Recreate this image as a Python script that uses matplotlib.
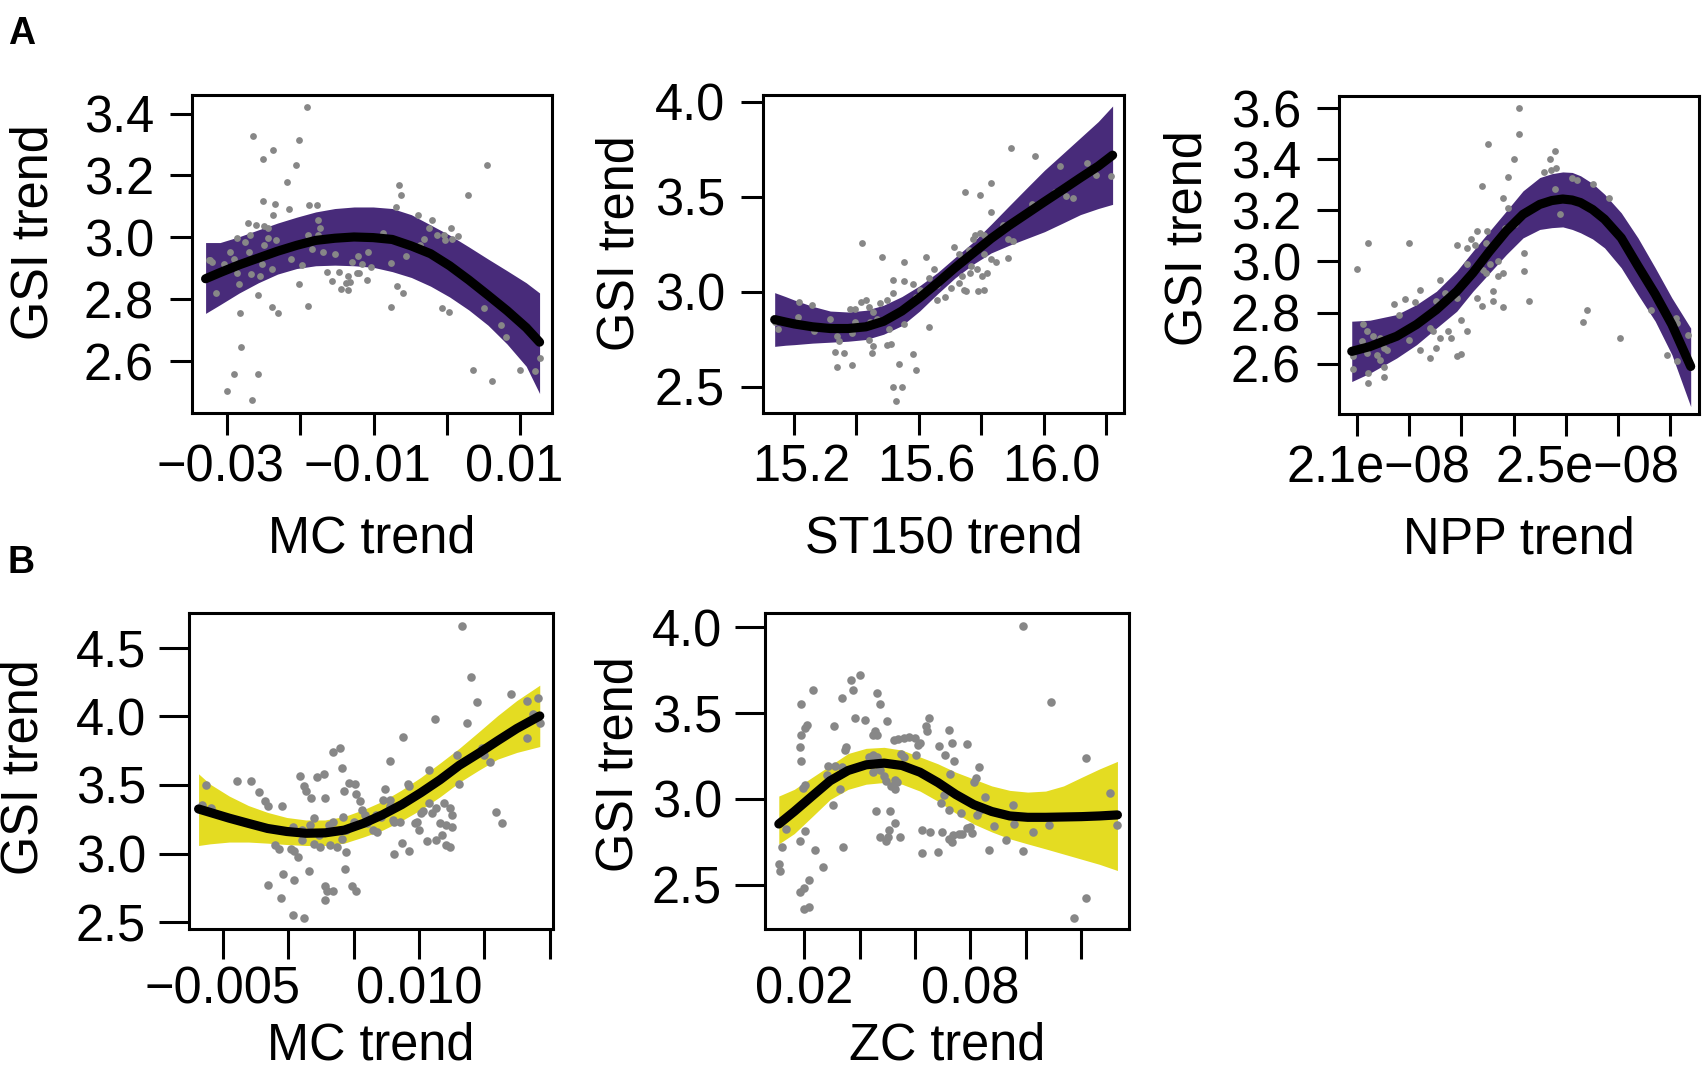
import numpy as np
import matplotlib
matplotlib.use('Agg')
import matplotlib.pyplot as plt
from matplotlib.transforms import ScaledTranslation

plt.rcParams['font.family'] = ['Liberation Sans', 'DejaVu Sans']

W, H = 1704, 1071

# ---------------- panel A, MC trend ----------------
mc_a_pts = [(-0.01901, 3.422), (-0.02635, 3.328), (-0.02010, 3.315), (-0.02375, 3.282), (-0.02510, 3.254),
            (-0.02057, 3.233), (-0.02177, 3.178), (0.00541, 3.233), (-0.00656, 3.169), (-0.00625, 3.137),
            (0.00286, 3.137), (-0.02510, 3.117), (-0.02344, 3.108), (-0.01875, 3.106), (-0.01771, 3.106),
            (-0.02151, 3.090), (-0.02365, 3.073), (-0.00688, 3.097), (-0.00396, 3.073), (-0.00198, 3.057),
            (0.00052, 3.029), (-0.02708, 3.046), (-0.02594, 3.040), (-0.02490, 3.035), (-0.02438, 3.031),
            (-0.02688, 3.007), (-0.02865, 2.999), (-0.02958, 2.954), (-0.02438, 2.999), (-0.00865, 3.013),
            (-0.00130, 3.009), (-0.00042, 3.007), (-0.00031, 2.991), (-0.00250, 3.031), (-0.00313, 2.993),
            (-0.00370, 2.976), (-0.01750, 3.057), (-0.01734, 3.031), (-0.01891, 3.007), (-0.01760, 3.007),
            (-0.03245, 2.925), (-0.03036, 2.914), (-0.02906, 2.930), (-0.02750, 2.985), (-0.02698, 2.952),
            (-0.02854, 2.886), (-0.02828, 2.848), (-0.02672, 2.881), (-0.02516, 2.914), (-0.02490, 2.974),
            (-0.02333, 2.991), (-0.02125, 2.930), (-0.01969, 2.910), (-0.01839, 2.963), (-0.01682, 2.952),
            (-0.01526, 2.947), (-0.01214, 2.941), (-0.01162, 2.914), (-0.01073, 2.952), (-0.01292, 2.921),
            (-0.01630, 2.888), (-0.01474, 2.888), (-0.01344, 2.875), (-0.01229, 2.884), (-0.01563, 2.859),
            (-0.01370, 2.853), (-0.01318, 2.855), (-0.01448, 2.833), (-0.01354, 2.829), (-0.01083, 2.862),
            (-0.01198, 2.886), (-0.01031, 2.903), (-0.00760, 2.917), (-0.00552, 2.941), (-0.00677, 2.842),
            (-0.00604, 2.820), (-0.00760, 2.774), (-0.02021, 2.848), (-0.01891, 2.779), (-0.02385, 2.776),
            (-0.02297, 2.756), (-0.02578, 2.815), (-0.02813, 2.754), (-0.03141, 2.820), (-0.02802, 2.646),
            (-0.02896, 2.558), (-0.02573, 2.558), (-0.03000, 2.503), (-0.02661, 2.475), (0.00359, 2.571),
            (0.00609, 2.534), (0.01000, 2.570), (0.01198, 2.567), (0.01260, 2.611), (0.00505, 2.771),
            (0.00739, 2.716), (0.00802, 2.677), (-0.00068, 2.771), (0.00021, 2.760), (0.00062, 2.996),
            (0.00156, 3.005), (-0.02385, 2.897), (-0.02542, 2.875), (-0.03193, 2.919), (-0.03229, 2.925)]
mc_a_cx = [-0.03286, -0.03089, -0.02828, -0.02568, -0.02307, -0.02047, -0.01787, -0.01526, -0.01266, -0.01005,
           -0.00745, -0.00485, -0.00224, 0.00036, 0.00297, 0.00557, 0.00817, 0.01078, 0.01260]
mc_a_fit = [2.866, 2.886, 2.911, 2.933, 2.955, 2.974, 2.990, 2.997, 3.001, 2.999,
            2.993, 2.972, 2.947, 2.908, 2.862, 2.813, 2.763, 2.708, 2.661]
mc_a_hi = [2.983, 2.983, 3.002, 3.024, 3.046, 3.065, 3.082, 3.093, 3.098, 3.098,
           3.093, 3.073, 3.040, 3.007, 2.969, 2.930, 2.892, 2.853, 2.820]
mc_a_lo = [2.754, 2.782, 2.820, 2.853, 2.881, 2.899, 2.908, 2.910, 2.908, 2.903,
           2.889, 2.870, 2.842, 2.807, 2.765, 2.716, 2.655, 2.583, 2.495]

# ---------------- panel A, ST150 trend ----------------
st_pts = [(15.897, 3.757), (15.972, 3.715), (16.052, 3.663), (16.138, 3.679), (16.169, 3.616), (16.216, 3.607),
          (15.749, 3.526), (15.798, 3.508), (15.831, 3.571), (15.831, 3.418), (15.964, 3.463), (16.038, 3.523),
          (16.072, 3.505), (16.093, 3.492), (15.870, 3.352), (15.886, 3.280), (15.902, 3.265), (15.886, 3.175),
          (15.780, 3.298), (15.798, 3.307), (15.809, 3.298), (15.775, 3.280), (15.761, 3.217), (15.712, 3.235),
          (15.729, 3.199), (15.809, 3.199), (15.831, 3.172), (15.849, 3.154), (15.769, 3.136), (15.786, 3.118),
          (15.763, 3.100), (15.803, 3.082), (15.820, 3.100), (15.740, 3.082), (15.729, 3.046), (15.751, 3.001),
          (15.791, 3.001), (15.809, 3.010), (15.660, 3.037), (15.649, 3.118), (15.632, 3.073), (15.623, 3.181),
          (15.603, 3.010), (15.592, 2.974), (15.582, 3.042), (15.552, 3.055), (15.554, 3.157), (15.483, 3.184),
          (15.420, 3.256), (15.517, 3.060), (15.517, 2.992), (15.499, 2.956), (15.477, 2.938), (15.431, 2.956),
          (15.415, 2.947), (15.397, 2.911), (15.380, 2.911), (15.442, 2.920), (15.455, 2.893), (15.466, 2.857),
          (15.445, 2.839), (15.397, 2.839), (15.386, 2.785), (15.340, 2.767), (15.346, 2.739), (15.317, 2.857),
          (15.260, 2.929), (15.216, 2.947), (15.214, 2.866), (15.265, 2.794), (15.151, 2.803), (15.139, 2.839),
          (15.442, 2.748), (15.455, 2.712), (15.451, 2.676), (15.512, 2.725), (15.498, 2.721), (15.362, 2.676),
          (15.331, 2.682), (15.337, 2.604), (15.388, 2.613), (15.538, 2.617), (15.592, 2.590), (15.582, 2.671),
          (15.517, 2.496), (15.548, 2.500), (15.528, 2.424), (15.632, 2.815), (15.552, 2.830), (15.506, 2.803),
          (15.660, 2.956), (15.683, 2.974), (15.705, 3.019), (15.746, 3.010)]
st_cx = [15.139, 15.174, 15.202, 15.260, 15.317, 15.374, 15.431, 15.488, 15.546, 15.603, 15.660,
         15.717, 15.775, 15.832, 15.889, 15.946, 16.003, 16.061, 16.118, 16.175, 16.221]
st_fit = [2.853, 2.840, 2.830, 2.815, 2.806, 2.806, 2.815, 2.844, 2.898, 2.968, 3.046,
          3.127, 3.204, 3.280, 3.348, 3.411, 3.474, 3.537, 3.600, 3.661, 3.719]
st_hi = [2.995, 2.974, 2.956, 2.923, 2.898, 2.893, 2.902, 2.929, 2.974, 3.031, 3.100,
         3.181, 3.262, 3.355, 3.451, 3.546, 3.640, 3.726, 3.811, 3.896, 3.978]
st_lo = [2.712, 2.718, 2.721, 2.729, 2.734, 2.739, 2.748, 2.776, 2.821, 2.898, 2.988,
         3.073, 3.145, 3.204, 3.244, 3.280, 3.316, 3.361, 3.406, 3.438, 3.460]

# ---------------- panel A, NPP trend (x in units of 1e-8) ----------------
npp_pts = [(2.410, 3.600), (2.410, 3.498), (2.351, 3.461), (2.400, 3.399), (2.390, 3.331), (2.340, 3.293),
           (2.480, 3.433), (2.469, 3.400), (2.459, 3.348), (2.472, 3.358), (2.482, 3.364), (2.380, 3.249),
           (2.390, 3.208), (2.479, 3.285), (2.489, 3.187), (2.122, 3.073), (2.200, 3.073), (2.101, 2.972),
           (2.291, 3.066), (2.310, 3.053), (2.329, 3.119), (2.319, 3.086), (2.326, 3.064), (2.349, 3.119),
           (2.348, 3.073), (2.402, 3.145), (2.383, 3.132), (2.420, 3.034), (2.420, 2.962), (2.430, 2.844),
           (2.380, 2.820), (2.361, 2.883), (2.361, 2.847), (2.340, 2.824), (2.329, 2.857), (2.370, 3.001),
           (2.380, 2.955), (2.370, 2.942), (2.348, 2.955), (2.342, 2.968), (2.354, 2.988), (2.310, 2.988),
           (2.259, 2.926), (2.221, 2.887), (2.192, 2.851), (2.171, 2.835), (2.211, 2.841), (2.181, 2.792),
           (2.111, 2.756), (2.119, 2.726), (2.131, 2.707), (2.144, 2.700), (2.157, 2.654), (2.160, 2.694),
           (2.151, 2.661), (2.109, 2.690), (2.120, 2.641), (2.138, 2.635), (2.144, 2.615), (2.151, 2.585),
           (2.151, 2.547), (2.122, 2.563), (2.122, 2.524), (2.092, 2.580), (2.093, 2.628), (2.200, 2.694),
           (2.221, 2.654), (2.240, 2.622), (2.252, 2.661), (2.259, 2.700), (2.275, 2.729), (2.281, 2.700),
           (2.300, 2.771), (2.310, 2.726), (2.291, 2.628), (2.300, 2.637), (2.240, 2.739), (2.246, 2.726),
           (2.252, 2.844), (2.268, 2.877), (2.291, 2.857), (2.329, 2.975), (2.512, 3.328), (2.522, 3.319),
           (2.551, 3.304), (2.582, 3.249), (2.541, 2.811), (2.532, 2.763), (2.603, 2.700), (2.663, 2.811),
           (2.710, 2.779), (2.713, 2.759), (2.734, 2.713), (2.694, 2.632), (2.713, 2.609)]
npp_cx = [2.090, 2.125, 2.176, 2.214, 2.252, 2.291, 2.322, 2.354, 2.386, 2.418, 2.450, 2.473, 2.494,
          2.512, 2.528, 2.551, 2.574, 2.606, 2.638, 2.671, 2.703, 2.739]
npp_fit = [2.648, 2.667, 2.707, 2.753, 2.811, 2.883, 2.955, 3.040, 3.119, 3.184, 3.223, 3.238, 3.244,
           3.240, 3.230, 3.203, 3.165, 3.092, 2.982, 2.872, 2.753, 2.589]
npp_hi = [2.766, 2.770, 2.792, 2.831, 2.883, 2.962, 3.040, 3.119, 3.197, 3.276, 3.328, 3.343, 3.350,
          3.348, 3.335, 3.305, 3.263, 3.190, 3.092, 2.975, 2.857, 2.739]
npp_lo = [2.530, 2.563, 2.622, 2.674, 2.739, 2.805, 2.883, 2.955, 3.027, 3.092, 3.125, 3.132, 3.135,
          3.125, 3.112, 3.088, 3.053, 2.975, 2.870, 2.766, 2.635, 2.432]

# ---------------- panel B, MC trend ----------------
mc_b_pts = [(0.013281, 4.661), (0.013955, 4.289), (0.014395, 4.102), (0.017061, 4.160), (0.018291, 4.115),
            (0.019082, 4.135), (0.018701, 4.016), (0.019229, 3.953), (0.018233, 3.842), (0.013662, 3.948),
            (0.011231, 3.978), (0.008770, 3.849), (0.007803, 3.675), (0.012930, 3.717), (0.014834, 3.767),
            (0.015420, 3.668), (0.010791, 3.606), (0.009121, 3.506), (0.009268, 3.494), (0.007363, 3.474),
            (0.007217, 3.394), (0.007803, 3.394), (0.008535, 3.233), (0.008096, 3.233), (0.010733, 3.370),
            (0.010293, 3.307), (0.011318, 3.332), (0.011904, 3.370), (0.012344, 3.332), (0.012490, 3.283),
            (0.011611, 3.220), (0.012051, 3.208), (0.012490, 3.196), (0.011758, 3.134), (0.012051, 3.059),
            (0.012344, 3.047), (0.011318, 3.096), (0.010586, 3.091), (0.010000, 3.171), (0.009854, 3.233),
            (0.009707, 3.220), (0.010146, 3.295), (0.011025, 3.295), (0.008682, 3.079), (0.009268, 3.017),
            (0.008096, 2.997), (0.013076, 3.506), (0.015860, 3.300), (0.016358, 3.225), (0.014980, 3.717),
            (-0.006260, 3.499), (-0.006553, 3.357), (-0.005908, 3.332), (-0.003916, 3.531), (-0.002832, 3.531),
            (-0.002217, 3.452), (-0.001777, 3.382), (-0.001572, 3.345), (-0.000488, 3.345), (0.000918, 3.563),
            (0.001211, 3.494), (0.001357, 3.457), (0.001709, 3.407), (0.002178, 3.556), (0.002764, 3.581),
            (0.002822, 3.407), (0.003408, 3.742), (0.003936, 3.767), (0.004082, 3.623), (0.004287, 3.457),
            (0.004639, 3.514), (0.005107, 3.506), (0.005166, 3.432), (0.005459, 3.382), (0.005606, 3.320),
            (0.005898, 3.283), (0.005020, 3.233), (0.004229, 3.270), (0.003408, 3.233), (0.003115, 3.208),
            (0.004434, 3.171), (0.004141, 3.109), (0.003760, 3.047), (0.004434, 3.009), (0.003174, 3.059),
            (0.002441, 3.047), (0.001943, 3.258), (0.001651, 3.208), (0.001064, 3.096), (0.000479, 3.022),
            (0.000772, 2.972), (0.000186, 3.034), (-0.000986, 3.059), (-0.000693, 3.034), (-0.001572, 2.768),
            (-0.000400, 2.848), (0.000479, 2.810), (-0.000547, 2.679), (0.001592, 2.873), (0.002822, 2.761),
            (0.002969, 2.724), (0.002822, 2.661), (0.003408, 2.724), (0.004375, 2.885), (0.004873, 2.761),
            (0.005166, 2.724), (0.000391, 2.550), (0.001211, 2.530), (0.006777, 3.158), (0.006045, 3.220),
            (0.006690, 3.283), (0.007070, 3.270), (0.007803, 3.345), (0.008037, 3.245), (0.002383, 3.134),
            (0.001943, 3.071), (0.000332, 3.196), (0.001064, 3.171), (0.006484, 3.171)]
mc_b_cx = [-0.006846, -0.005967, -0.004502, -0.003037, -0.001572, -0.000107, 0.001357, 0.002822, 0.004287,
           0.005752, 0.007217, 0.008682, 0.010146, 0.011611, 0.013076, 0.014541, 0.016006, 0.017471, 0.019229]
mc_b_fit = [3.325, 3.300, 3.258, 3.220, 3.183, 3.161, 3.148, 3.151, 3.171,
            3.220, 3.283, 3.357, 3.444, 3.538, 3.643, 3.730, 3.822, 3.911, 4.003]
mc_b_hi = [3.581, 3.506, 3.419, 3.350, 3.300, 3.263, 3.245, 3.245, 3.270,
           3.320, 3.382, 3.464, 3.556, 3.660, 3.767, 3.885, 4.005, 4.115, 4.227]
mc_b_lo = [3.059, 3.071, 3.084, 3.084, 3.076, 3.066, 3.059, 3.059, 3.076,
           3.121, 3.171, 3.240, 3.320, 3.414, 3.519, 3.606, 3.688, 3.737, 3.780]

# ---------------- panel B, ZC trend ----------------
zc_pts = [(0.09909, 4.010), (0.10922, 3.563), (0.12182, 3.239), (0.13065, 3.032), (0.13299, 2.848),
          (0.12182, 2.420), (0.11766, 2.305), (0.04013, 3.722), (0.03688, 3.696), (0.03779, 3.636),
          (0.02325, 3.636), (0.01896, 3.553), (0.03351, 3.587), (0.04623, 3.619), (0.04727, 3.553),
          (0.03844, 3.473), (0.04195, 3.460), (0.04974, 3.454), (0.03091, 3.428), (0.02091, 3.434),
          (0.02026, 3.414), (0.01896, 3.374), (0.01831, 3.301), (0.01870, 3.221), (0.02026, 3.080),
          (0.01961, 3.066), (0.03519, 3.305), (0.03455, 3.285), (0.02870, 3.195), (0.03104, 3.195),
          (0.03364, 3.185), (0.02805, 3.140), (0.03286, 3.056), (0.03039, 2.967), (0.04558, 3.394),
          (0.04623, 3.374), (0.04494, 3.374), (0.05247, 3.344), (0.05403, 3.350), (0.05597, 3.354),
          (0.05792, 3.364), (0.05987, 3.354), (0.06182, 3.324), (0.06117, 3.315), (0.06506, 3.473),
          (0.06416, 3.424), (0.06442, 3.394), (0.07247, 3.404), (0.07351, 3.324), (0.06857, 3.311),
          (0.07896, 3.319), (0.04494, 3.255), (0.04338, 3.245), (0.04623, 3.245), (0.04688, 3.195),
          (0.04753, 3.166), (0.04494, 3.156), (0.04883, 3.136), (0.04948, 3.106), (0.05273, 3.110),
          (0.05273, 3.056), (0.05143, 3.076), (0.05338, 3.096), (0.05506, 3.265), (0.05597, 3.245),
          (0.06052, 3.259), (0.07091, 3.255), (0.07416, 3.219), (0.07286, 3.146), (0.06935, 2.977),
          (0.07065, 3.026), (0.07221, 2.937), (0.07675, 2.921), (0.08130, 3.096), (0.08325, 3.189),
          (0.08221, 3.120), (0.08519, 3.013), (0.08364, 2.937), (0.08234, 2.907), (0.08000, 2.838),
          (0.08065, 2.802), (0.07896, 2.828), (0.07714, 2.798), (0.07584, 2.798), (0.07377, 2.788),
          (0.07221, 2.768), (0.07351, 2.748), (0.06987, 2.808), (0.06545, 2.808), (0.06247, 2.818),
          (0.06831, 2.689), (0.06247, 2.683), (0.09299, 2.762), (0.09558, 2.967), (0.09597, 2.854),
          (0.10273, 2.808), (0.09922, 2.695), (0.08688, 2.705), (0.08844, 2.842), (0.10857, 2.848),
          (0.04597, 2.927), (0.05117, 2.927), (0.04753, 2.778), (0.04948, 2.754), (0.05273, 2.858),
          (0.05052, 2.818), (0.05013, 2.778), (0.05468, 2.778), (0.03416, 2.722), (0.01338, 2.822),
          (0.01182, 2.722), (0.01078, 2.623), (0.01117, 2.583), (0.01831, 2.754), (0.02026, 2.814),
          (0.02390, 2.703), (0.02675, 2.603), (0.02182, 2.530), (0.02000, 2.480), (0.01831, 2.460),
          (0.01987, 2.357), (0.02156, 2.371)]
zc_cx = [0.010779, 0.016364, 0.022857, 0.029351, 0.035844, 0.042338, 0.048831, 0.055325, 0.061818, 0.068312,
         0.074805, 0.081299, 0.087792, 0.094286, 0.100779, 0.107273, 0.113766, 0.120260, 0.126753, 0.133247]
zc_fit = [2.854, 2.927, 3.017, 3.106, 3.166, 3.199, 3.209, 3.195, 3.156, 3.096,
          3.026, 2.967, 2.927, 2.901, 2.893, 2.893, 2.895, 2.897, 2.901, 2.907]
zc_hi = [3.017, 3.056, 3.126, 3.195, 3.265, 3.295, 3.301, 3.285, 3.245, 3.205,
         3.156, 3.116, 3.076, 3.050, 3.040, 3.046, 3.076, 3.126, 3.175, 3.219]
zc_lo = [2.738, 2.798, 2.897, 2.997, 3.056, 3.086, 3.096, 3.086, 3.046, 2.987,
         2.917, 2.854, 2.808, 2.768, 2.738, 2.709, 2.679, 2.649, 2.619, 2.583]

PURPLE = '#482B7A'
YELLOW = '#E4DC22'
GREY = '#878787'
FS = 36.4


def add_frame(fig, l, t, r, b):
    # pixel box (from top-left) -> figure fraction
    return fig.add_axes([l / W, 1 - b / H, (r - l) / W, (b - t) / H])


def panel(ax, pts, cx, fit, lo, hi, band, xscale=1.0, ms=24, tick_len=15.8, xpad=6.5, ypad=11.5):
    px, py = zip(*pts)
    cx = np.asarray(cx) * xscale
    ax.fill_between(cx, lo, hi, color=band, lw=0, zorder=1)
    ax.scatter(np.asarray(px) * xscale, py, s=ms, color=GREY, lw=0, zorder=2)
    ax.plot(cx, fit, color='black', lw=6.6, solid_capstyle='round', solid_joinstyle='round', zorder=3)
    for s in ax.spines.values():
        s.set_linewidth(2.2)
    ax.tick_params(axis='both', direction='out', length=tick_len, width=2.2, labelsize=FS)
    ax.tick_params(axis='x', pad=xpad)
    ax.tick_params(axis='y', pad=ypad)


def finish(ax, xticks, xlabels, yticks, xlab, xlab_y, ylab_x, ylab_y, shift=0.0):
    ax.set_xticks(xticks)
    ax.set_xticklabels(xlabels)
    ax.set_yticks(yticks)
    ax.set_yticklabels(['%.1f' % v for v in yticks])
    ax.set_xlabel(xlab, fontsize=FS)
    ax.set_ylabel('GSI trend', fontsize=FS)
    ax.xaxis.set_label_coords(0.5, xlab_y)
    ax.yaxis.set_label_coords(ylab_x, ylab_y)
    if shift:
        off = ScaledTranslation(shift / 100, 0, fig.dpi_scale_trans)
        for lbl in ax.get_xticklabels():
            lbl.set_transform(lbl.get_transform() + off)


fig = plt.figure(figsize=(W / 100, H / 100), dpi=100)

# A1
ax = add_frame(fig, 192, 95, 552, 413)
panel(ax, mc_a_pts, mc_a_cx, mc_a_fit, mc_a_lo, mc_a_hi, PURPLE)
ax.set_xlim(-0.03471, 0.01429)
ax.set_ylim(2.432, 3.460)
finish(ax, [-0.03, -0.02, -0.01, 0.0, 0.01], ['\u22120.03', '', '\u22120.01', '', '0.01'],
       [2.6, 2.8, 3.0, 3.2, 3.4], 'MC trend', -0.318, -0.372, 0.569, shift=-6)

# A2
ax = add_frame(fig, 763, 95, 1124, 413)
panel(ax, st_pts, st_cx, st_fit, st_lo, st_hi, PURPLE)
ax.set_xlim(15.1016, 16.2575)
ax.set_ylim(2.361, 4.036)
finish(ax, [15.2, 15.4, 15.6, 15.8, 16.0, 16.2], ['15.2', '', '15.6', '', '16.0', ''],
       [2.5, 3.0, 3.5, 4.0], 'ST150 trend', -0.318, -0.327, 0.535, shift=7.5)

# A3
ax = add_frame(fig, 1339, 96, 1699, 414)
panel(ax, npp_pts, npp_cx, npp_fit, npp_lo, npp_hi, PURPLE, xscale=1e-8)
ax.set_xlim(2.0656e-8, 2.7549e-8)
ax.set_ylim(2.403, 3.647)
finish(ax, [2.1e-8, 2.2e-8, 2.3e-8, 2.4e-8, 2.5e-8, 2.6e-8, 2.7e-8],
       ['2.1e\u221208', '', '', '', '2.5e\u221208', '', ''],
       [2.6, 2.8, 3.0, 3.2, 3.4, 3.6], 'NPP trend', -0.318, -0.35, 0.554, shift=22)

# B1
ax = add_frame(fig, 189, 613, 553, 929)
panel(ax, mc_b_pts, mc_b_cx, mc_b_fit, mc_b_lo, mc_b_hi, YELLOW, ms=38, tick_len=21.6, xpad=5, ypad=9.4)
ax.set_xlim(-0.007578, 0.02024)
ax.set_ylim(2.4505, 4.753)
finish(ax, [-0.005, 0.0, 0.005, 0.010, 0.015, 0.020], ['\u22120.005', '', '', '0.010', '', ''],
       [2.5, 3.0, 3.5, 4.0, 4.5], 'MC trend', -0.294, -0.385, 0.513)

# B2
ax = add_frame(fig, 765, 613, 1129, 929)
panel(ax, zc_pts, zc_cx, zc_fit, zc_lo, zc_hi, YELLOW, ms=38, tick_len=21.6, xpad=5, ypad=9.4)
ax.set_xlim(0.005786, 0.13743)
ax.set_ylim(2.242, 4.084)
finish(ax, [0.02, 0.04, 0.06, 0.08, 0.10, 0.12], ['0.02', '', '', '0.08', '', ''],
       [2.5, 3.0, 3.5, 4.0], 'ZC trend', -0.294, -0.335, 0.523)

fig.text(8 / W, 1 - 44 / H, 'A', fontsize=27, fontweight='bold', va='baseline')
fig.text(7 / W, 1 - 573 / H, 'B', fontsize=27, fontweight='bold', va='baseline')

fig.savefig('out.png', dpi=100)
